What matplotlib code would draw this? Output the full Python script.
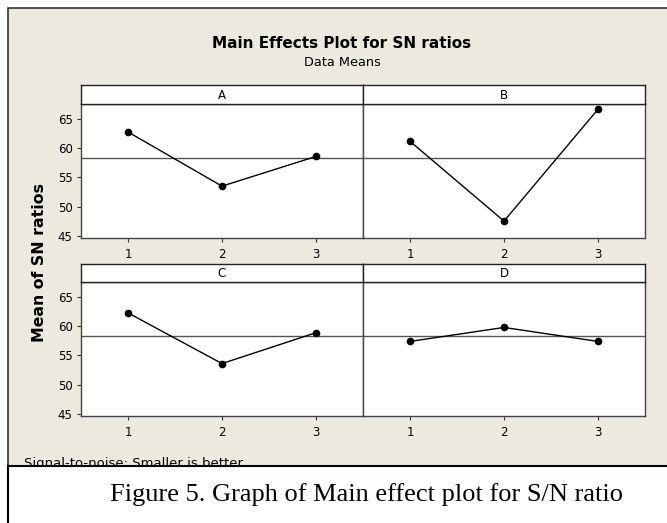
import matplotlib
matplotlib.use("Agg")
import matplotlib.pyplot as plt
from matplotlib.patches import Rectangle

# factor levels and mean S/N ratio per level
levels = [1, 2, 3]
factor_names = ["A", "B", "C", "D"]
sn_A = [62.8, 53.5, 58.6]
sn_B = [61.2, 47.5, 66.7]
sn_C = [62.3, 53.6, 58.9]
sn_D = [57.4, 59.8, 57.4]
grand_mean = 58.25
y_ticks = [45, 50, 55, 60, 65]

W, H = 667, 523
BEIGE = "#EDE9DF"


def box(x0, y0, x1, y1):
	"""pixel box (top-left origin) -> figure fraction rect"""
	return [x0 / W, 1 - y1 / H, (x1 - x0) / W, (y1 - y0) / H]


fig = plt.figure(figsize=(W / 100, H / 100), dpi=100)
fig.patch.set_facecolor("white")

# beige chart area with dark border
fig.patches.append(Rectangle((8 / W, 1 - 466 / H), 700 / W, 458 / H, transform=fig.transFigure,
                             facecolor=BEIGE, edgecolor="#333333", linewidth=1.2, zorder=-5))

fig.text(342 / W, 1 - 48 / H, "Main Effects Plot for SN ratios", ha="center", va="baseline",
         fontsize=11, fontweight="bold")
fig.text(342 / W, 1 - 66 / H, "Data Means", ha="center", va="baseline", fontsize=9.3)

panels = [
	(sn_A, (81, 104, 363, 238), (81, 85, 363, 104)),
	(sn_B, (363, 104, 645, 238), (363, 85, 645, 104)),
	(sn_C, (81, 282, 363, 416), (81, 264, 363, 282)),
	(sn_D, (363, 282, 645, 416), (363, 264, 645, 282)),
]

for i, (vals, pbox, sbox) in enumerate(panels):
	ax = fig.add_axes(box(*pbox))
	ax.set_facecolor("white")
	ax.axhline(grand_mean, color="#555555", linewidth=1.0, zorder=1)
	ax.plot(levels, vals, color="black", linewidth=1.0, marker="o", markersize=4.5, zorder=3)
	ax.set_xlim(0.5, 3.5)
	ax.set_ylim(44.6, 67.6)
	ax.set_xticks(levels)
	ax.set_yticks(y_ticks)
	ax.tick_params(axis="both", length=3, width=0.8, color="#333333", labelsize=8.5, pad=3)
	ax.tick_params(axis="x", pad=4)
	if i % 2 == 1:
		ax.tick_params(axis="y", left=False, labelleft=False)
	for s in ax.spines.values():
		s.set_color("#444444")
		s.set_linewidth(1.0)

	sax = fig.add_axes(box(*sbox))
	sax.set_facecolor("white")
	sax.set_xticks([])
	sax.set_yticks([])
	for s in sax.spines.values():
		s.set_color("#222222")
		s.set_linewidth(1.0)
	sax.text(0.5, 0.45, factor_names[i], ha="center", va="center", fontsize=8.5,
	         transform=sax.transAxes)

fig.text(40 / W, 1 - 262 / H, "Mean of SN ratios", rotation=90, ha="center", va="center",
         fontsize=11.3, fontweight="bold")

fig.text(24 / W, 1 - 467 / H, "Signal-to-noise: Smaller is better", ha="left", va="baseline",
         fontsize=9.5, zorder=1)

# caption box under the chart
fig.patches.append(Rectangle((8 / W, -0.01), 700 / W, (523 - 466) / H + 0.01, transform=fig.transFigure,
                             facecolor="white", edgecolor="black", linewidth=1.5, zorder=5))
fig.text(110 / W, 1 - 501 / H, "Figure 5. Graph of Main effect plot for S/N ratio", ha="left",
         va="baseline", fontsize=19, family=["Liberation Serif", "DejaVu Serif"], zorder=6)

fig.savefig("out.png", dpi=100)
